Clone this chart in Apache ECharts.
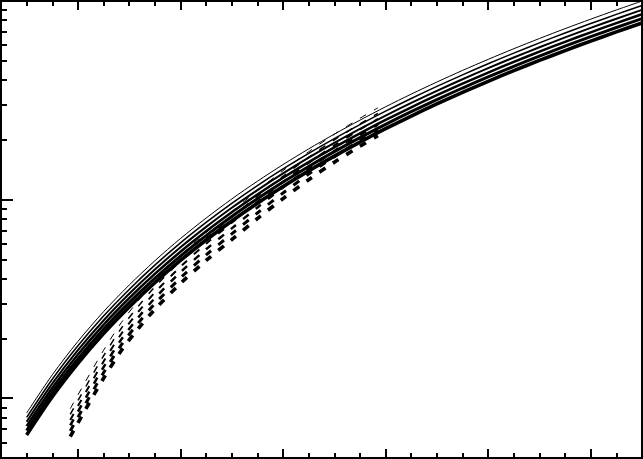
<!DOCTYPE html>
<html><head><meta charset="utf-8">
<script src="https://cdn.jsdelivr.net/npm/echarts@6/dist/echarts.min.js"></script>
<style>html,body{margin:0;padding:0;background:#fff}#c{width:643px;height:459px}</style>
</head><body><div id="c"></div>
<script>
// x positions (arbitrary linear units, one unit per minor tick)
const solidX = [1,2,3,4,5,6,7,8,9,10,11,12,13,14,15,16,17,18,19,20,21,22,23,24,25];
const solid1 = [0.842,1.311,1.932,2.727,3.713,4.920,6.368,8.072,10.07,12.37,15.01,18.00,21.36,25.12,29.33,33.98,39.08,44.70,50.82,57.51,64.74,72.58,81.01,90.12,99.9];
const solid2 = [0.800,1.246,1.836,2.592,3.529,4.676,6.052,7.672,9.571,11.76,14.27,17.11,20.30,23.87,27.88,32.29,37.14,42.48,48.30,54.66,61.53,68.98,76.99,85.65,94.94];
const solid3 = [0.761,1.184,1.745,2.463,3.354,4.444,5.752,7.291,9.096,11.17,13.56,16.26,19.29,22.69,26.49,30.69,35.30,40.38,45.91,51.95,58.48,65.56,73.18,81.40,90.24];
const solid4 = [0.723,1.125,1.659,2.341,3.188,4.224,5.467,6.930,8.645,10.62,12.89,15.45,18.34,21.57,25.18,29.17,33.55,38.37,43.63,49.37,55.58,62.31,69.55,77.37,85.76];
const solid5 = [0.687,1.070,1.576,2.225,3.029,4.014,5.196,6.586,8.216,10.09,12.25,14.69,17.43,20.50,23.93,27.72,31.89,36.47,41.46,46.92,52.82,59.22,66.10,73.53,81.51];
const solid6 = [0.653,1.017,1.498,2.115,2.879,3.815,4.938,6.260,7.809,9.593,11.64,13.96,16.56,19.48,22.75,26.35,30.31,34.66,39.41,44.60,50.21,56.29,62.82,69.89,77.47];

const dashX = [2.7,3.3,4,4.7,5.3,6,7,8,9,10,11,12,13,14,14.7];
const dash1 = [0.885,1.217,1.742,2.410,3.037,3.873,5.231,6.825,8.702,11.10,13.99,17.42,21.33,25.67,28.99];
const dash2 = [0.829,1.140,1.633,2.258,2.847,3.631,4.903,6.397,8.157,10.40,13.11,16.33,19.99,24.06,27.17];
const dash3 = [0.777,1.069,1.530,2.117,2.668,3.403,4.595,5.996,7.645,9.747,12.29,15.30,18.74,22.55,25.47];
const dash4 = [0.729,1.002,1.434,1.984,2.501,3.190,4.307,5.620,7.166,9.136,11.52,14.34,17.56,21.14,23.87];
const dash5 = [0.683,0.939,1.344,1.860,2.344,2.989,4.037,5.267,6.716,8.563,10.80,13.44,16.46,19.81,22.37];
const dash6 = [0.640,0.880,1.260,1.743,2.197,2.802,3.784,4.937,6.295,8.026,10.12,12.60,15.43,18.57,20.97];

const xMajorTicks = [3,7,11,15,19,23];
const xMinorTicks = [1,2,4,5,6,8,9,10,12,13,14,16,17,18,20,21,22,24];
const yMajorTicks = [1,10];
const yMinorTicks = [0.6,0.7,0.8,0.9,2,3,4,5,6,7,8,9,20,30,40,50,60,70,80,90];

const solidSets = [solid1,solid2,solid3,solid4,solid5,solid6];
const dashSets = [dash1,dash2,dash3,dash4,dash5,dash6];
const widths = [1,1.5,2,2.5,3,3.6];

const chart = echarts.init(document.getElementById('c'), null, {renderer:'canvas'});
const tickStyle = {color:'#000', width:2};
const xBase = {type:'value', min:0, max:25, axisLine:{show:false}, axisLabel:{show:false}, splitLine:{show:false}};
const yBase = {type:'log', logBase:10, min:0.5, max:100, axisLine:{show:false}, axisLabel:{show:false}, splitLine:{show:false}, minorTick:{show:false}};
const series = [];
solidSets.forEach((vals,i)=>{
  series.push({type:'line', symbol:'none', smooth:0.3, silent:true,
    data: solidX.map((x,j)=>[x, vals[j]]),
    lineStyle:{color:'#000', width:widths[i], type:'solid'}});
});
dashSets.forEach((vals,i)=>{
  series.push({type:'line', symbol:'none', smooth:0.3, silent:true,
    data: dashX.map((x,j)=>[x, vals[j]]),
    lineStyle:{color:'#000', width:widths[i], type:[7,9], cap:'butt'}});
});
chart.setOption({
  animation:false,
  backgroundColor:'#fff',
  grid:{left:1, right:1, top:1, bottom:1, show:true, borderColor:'#000', borderWidth:2, backgroundColor:'transparent'},
  xAxis:[
    Object.assign({}, xBase, {position:'bottom', axisTick:{inside:true, length:9, lineStyle:tickStyle, customValues:xMajorTicks}}),
    Object.assign({}, xBase, {position:'bottom', axisTick:{inside:true, length:5, lineStyle:tickStyle, customValues:xMinorTicks}}),
    Object.assign({}, xBase, {position:'top', axisTick:{inside:true, length:9, lineStyle:tickStyle, customValues:xMajorTicks}}),
    Object.assign({}, xBase, {position:'top', axisTick:{inside:true, length:5, lineStyle:tickStyle, customValues:xMinorTicks}})
  ],
  yAxis:[
    Object.assign({}, yBase, {position:'left', axisTick:{inside:true, length:12, lineStyle:tickStyle, customValues:yMajorTicks}}),
    Object.assign({}, yBase, {position:'left', axisTick:{inside:true, length:6, lineStyle:tickStyle, customValues:yMinorTicks}}),
    Object.assign({}, yBase, {position:'right', axisTick:{inside:true, length:12, lineStyle:tickStyle, customValues:yMajorTicks}}),
    Object.assign({}, yBase, {position:'right', axisTick:{inside:true, length:6, lineStyle:tickStyle, customValues:yMinorTicks}})
  ],
  series: series
});
</script>
</body></html>
